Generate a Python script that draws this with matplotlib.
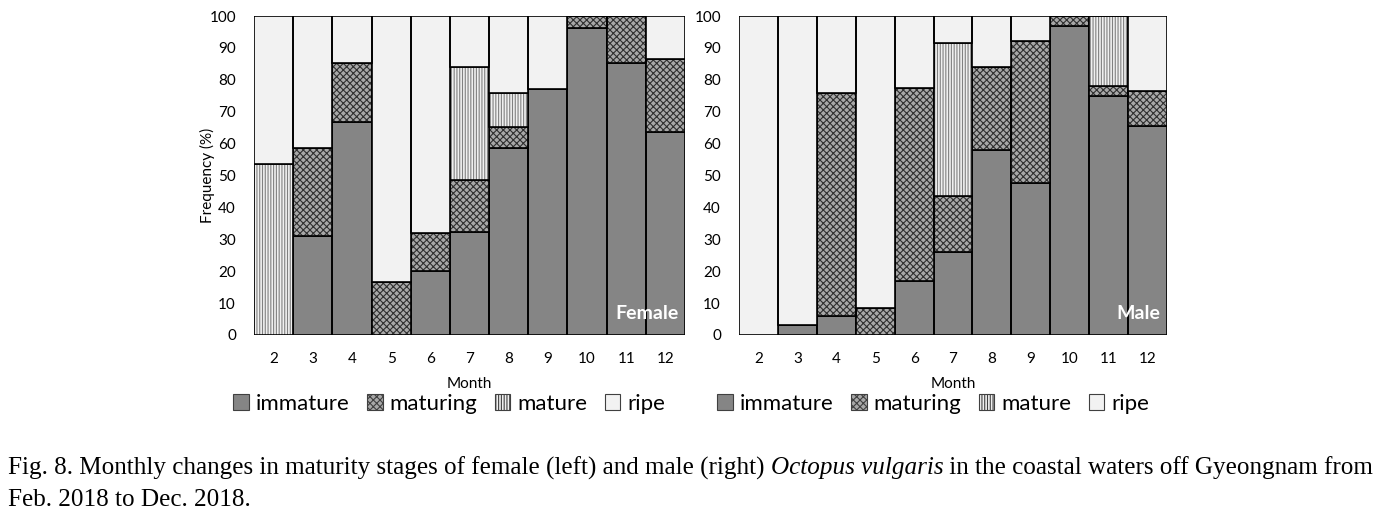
import numpy as np
import matplotlib
matplotlib.use("Agg")
import matplotlib.pyplot as plt
import matplotlib.patches as mpatches

months = [2, 3, 4, 5, 6, 7, 8, 9, 10, 11, 12]
stages = ["immature", "maturing", "mature", "ripe"]

# cumulative read-offs converted to shares (%)
female_immature = [0, 31.0, 66.7, 0, 20.0, 32.4, 58.5, 77.2, 96.3, 85.2, 63.5]
female_maturing = [0, 27.7, 18.5, 16.7, 11.9, 16.2, 6.8, 0, 3.7, 14.8, 22.9]
female_mature = [53.6, 0, 0, 0, 0, 35.3, 10.7, 0, 0, 0, 0]
female_ripe = [46.4, 41.3, 14.8, 83.3, 68.1, 16.1, 24.0, 22.8, 0, 0, 13.6]

male_immature = [0, 3.0, 5.9, 0, 16.9, 26.0, 57.9, 47.5, 96.9, 75.0, 65.6]
male_maturing = [0, 0, 69.9, 8.4, 60.4, 17.6, 26.0, 44.8, 3.1, 3.1, 10.9]
male_mature = [0, 0, 0, 0, 0, 47.8, 0, 0, 0, 21.9, 0]
male_ripe = [100, 97.0, 24.2, 91.6, 22.7, 8.6, 16.1, 7.7, 0, 0, 23.5]

plt.rcParams["font.family"] = ["Lato", "DejaVu Sans"]
plt.rcParams["hatch.linewidth"] = 0.8

styles = {
    "immature": dict(fc="#858585", hatch=None, hc="#858585"),
    "maturing": dict(fc="#a8a8a8", hatch="xxxxx", hc="#303030"),
    "mature": dict(fc="#f0f0f0", hatch="||||||", hc="#808080"),
    "ripe": dict(fc="#f2f2f2", hatch=None, hc="#f2f2f2"),
}

fig = plt.figure(figsize=(13.83, 5.19), dpi=100)
W, H = 1383, 519
ax1 = fig.add_axes([254 / W, (H - 335) / H, (685 - 254) / W, (335 - 16) / H])
ax2 = fig.add_axes([739 / W, (H - 335) / H, (1167 - 739) / W, (335 - 16) / H])


def draw(ax, series, label):
    x = np.arange(len(months))
    bottom = np.zeros(len(months))
    for st, vals in zip(stages, series):
        vals = np.array(vals)
        s = styles[st]
        ax.bar(x, vals, bottom=bottom, width=1.0, color=s["fc"], hatch=s["hatch"],
               edgecolor=s["hc"], linewidth=0)
        ax.bar(x, vals, bottom=bottom, width=1.0, fill=False, edgecolor="black", linewidth=1.2)
        bottom += vals
    ax.set_xlim(-0.5, len(months) - 0.5)
    ax.set_ylim(0, 100)
    ax.set_yticks(range(0, 101, 10))
    ax.set_xticks(x)
    ax.set_xticklabels([str(m) for m in months])
    ax.tick_params(length=0, labelsize=11)
    ax.tick_params(axis="y", pad=13)
    ax.tick_params(axis="x", pad=12)
    for sp in ax.spines.values():
        sp.set_visible(False)
    ax.set_xlabel("Month", fontsize=11, labelpad=8)
    ax.text(0.985, 0.04, label, transform=ax.transAxes, ha="right", va="bottom",
            color="white", fontsize=14, fontweight="bold")
    handles = [mpatches.Patch(facecolor=styles[st]["fc"], hatch=styles[st]["hatch"],
                              edgecolor="#404040", linewidth=0.8, label=st) for st in stages]
    return handles


h = draw(ax1, [female_immature, female_maturing, female_mature, female_ripe], "Female")
draw(ax2, [male_immature, male_maturing, male_mature, male_ripe], "Male")
ax1.set_ylabel("Frequency (%)", fontsize=11)
ax1.yaxis.set_label_coords(-39 / 431, 0.5)

for cx in (449 / W, 933 / W):
    fig.legend(handles=h, loc="center", bbox_to_anchor=(cx, (H - 404) / H), ncol=4,
               frameon=False, fontsize=16, handlelength=0.7, handleheight=0.7,
               handletextpad=0.3, columnspacing=0.8, borderpad=0)

# caption with italic species name
cap_font = dict(family="Liberation Serif", fontsize=18.1)
fig.canvas.draw()
r = fig.canvas.get_renderer()
x0 = 8 / W
y1 = (H - 468) / H
parts = [("Fig. 8. Monthly changes in maturity stages of female (left) and male (right) ", "normal"),
         ("Octopus vulgaris", "italic"),
         (" in the coastal waters off Gyeongnam from", "normal")]
x = x0
for txt, st in parts:
    t = fig.text(x, y1, txt, ha="left", va="center", style=st, **cap_font)
    bb = t.get_window_extent(renderer=r)
    x += bb.width / W
fig.text(x0, (H - 500) / H, "Feb. 2018 to Dec. 2018.", ha="left", va="center", **cap_font)

fig.savefig("out.png", dpi=100)
